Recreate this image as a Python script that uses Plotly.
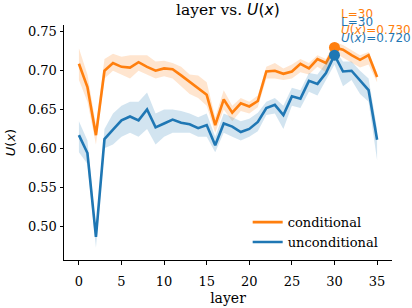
import plotly.graph_objects as go

layers = list(range(36))

cond_mean = [0.709, 0.679, 0.617, 0.700, 0.710, 0.705, 0.704, 0.711, 0.705, 0.700,
             0.703, 0.702, 0.694, 0.686, 0.678, 0.669, 0.630, 0.663, 0.646, 0.658,
             0.654, 0.661, 0.699, 0.700, 0.696, 0.699, 0.709, 0.703, 0.715, 0.710,
             0.730, 0.727, 0.720, 0.714, 0.720, 0.692]
cond_low = [0.688, 0.660, 0.605, 0.690, 0.700, 0.695, 0.690, 0.700, 0.695, 0.690,
            0.693, 0.690, 0.680, 0.670, 0.665, 0.655, 0.620, 0.650, 0.635, 0.648,
            0.645, 0.653, 0.690, 0.690, 0.688, 0.690, 0.698, 0.695, 0.705, 0.698,
            0.723, 0.717, 0.710, 0.704, 0.708, 0.685]
cond_high = [0.729, 0.695, 0.630, 0.715, 0.722, 0.718, 0.720, 0.720, 0.720, 0.712,
             0.713, 0.710, 0.705, 0.695, 0.694, 0.685, 0.640, 0.675, 0.655, 0.665,
             0.660, 0.668, 0.705, 0.710, 0.703, 0.708, 0.715, 0.710, 0.720, 0.715,
             0.737, 0.733, 0.726, 0.720, 0.724, 0.697]

unc_mean = [0.617, 0.594, 0.486, 0.612, 0.624, 0.636, 0.641, 0.636, 0.650, 0.627,
            0.632, 0.637, 0.633, 0.631, 0.626, 0.630, 0.604, 0.632, 0.628, 0.621,
            0.625, 0.634, 0.652, 0.656, 0.643, 0.667, 0.664, 0.687, 0.683, 0.697,
            0.720, 0.699, 0.700, 0.688, 0.675, 0.611]
unc_low = [0.595, 0.580, 0.472, 0.600, 0.605, 0.615, 0.620, 0.615, 0.625, 0.605,
           0.615, 0.620, 0.620, 0.620, 0.615, 0.615, 0.595, 0.620, 0.615, 0.610,
           0.615, 0.622, 0.643, 0.645, 0.625, 0.655, 0.652, 0.673, 0.668, 0.688,
           0.708, 0.680, 0.688, 0.670, 0.660, 0.585]
unc_high = [0.635, 0.610, 0.495, 0.625, 0.645, 0.655, 0.660, 0.660, 0.672, 0.645,
            0.650, 0.650, 0.648, 0.645, 0.640, 0.645, 0.615, 0.645, 0.640, 0.635,
            0.638, 0.646, 0.660, 0.665, 0.655, 0.678, 0.675, 0.697, 0.695, 0.710,
            0.728, 0.712, 0.712, 0.700, 0.690, 0.625]

best_layer = 30
best_cond = 0.730
best_unc = 0.720

ORANGE = "#ff7f0e"
BLUE = "#1f77b4"
SERIF = "DejaVu Serif"
SANS = "DejaVu Sans"

fig = go.Figure()

def add_series(mean, low, high, color, fill, name):
    fig.add_trace(go.Scatter(x=layers, y=high, mode="lines", line=dict(width=0),
                             showlegend=False, hoverinfo="skip"))
    fig.add_trace(go.Scatter(x=layers, y=low, mode="lines", line=dict(width=0),
                             fill="tonexty", fillcolor=fill, showlegend=False, hoverinfo="skip"))
    fig.add_trace(go.Scatter(x=layers, y=mean, mode="lines", name=name,
                             line=dict(color=color, width=2.6)))

add_series(cond_mean, cond_low, cond_high, ORANGE, "rgba(255,127,14,0.2)", "conditional")
add_series(unc_mean, unc_low, unc_high, BLUE, "rgba(31,119,180,0.2)", "unconditional")

fig.add_trace(go.Scatter(x=[best_layer], y=[best_cond], mode="markers",
                         marker=dict(color=ORANGE, size=11), showlegend=False))
fig.add_trace(go.Scatter(x=[best_layer], y=[best_unc], mode="markers",
                         marker=dict(color=BLUE, size=11), showlegend=False))

for val, color in [(best_cond, ORANGE), (best_unc, BLUE)]:
    fig.add_annotation(x=best_layer, y=val, xref="x", yref="y",
                       text=f"L={best_layer}<br><i>U</i>(<i>x</i>)={val:.3f}",
                       showarrow=False, xanchor="left", yanchor="bottom", align="left",
                       xshift=5, yshift=8, font=dict(family=SANS, size=12, color=color))

# title as an annotation above the plot area
fig.add_annotation(x=0.5, y=1.064, xref="paper", yref="paper", showarrow=False,
                   xanchor="center", yanchor="middle",
                   text="layer vs. <span style='font-family:DejaVu Sans'><i>U</i>(<i>x</i>)</span>",
                   font=dict(family=SERIF, size=15.5, color="black"))

axis_common = dict(showgrid=False, zeroline=False, showline=True, linecolor="black",
                   linewidth=1, ticks="outside", ticklen=3.5, tickwidth=0.8,
                   tickcolor="black", tickfont=dict(family=SERIF, size=13, color="black"),
                   mirror=False, automargin=False)

fig.update_xaxes(range=[-1.75, 36.75], tickvals=[0, 5, 10, 15, 20, 25, 30, 35],
                 ticklabelstandoff=6,
                 title=dict(text="layer", font=dict(family=SERIF, size=14, color="black"),
                            standoff=5), **axis_common)
fig.update_yaxes(range=[0.4562, 0.7589], tickvals=[0.50, 0.55, 0.60, 0.65, 0.70, 0.75],
                 tickformat=".2f",
                 title=dict(text="<i>U</i>(<i>x</i>)", font=dict(family=SANS, size=13, color="black"),
                            standoff=9), **axis_common)

fig.update_layout(
    width=412, height=308,
    margin=dict(l=64, r=20, t=25, b=48),
    plot_bgcolor="white", paper_bgcolor="white",
    legend=dict(x=0.56, y=0.225, xanchor="left", yanchor="top", traceorder="normal",
                font=dict(family=SERIF, size=13, color="black"),
                bgcolor="rgba(0,0,0,0)", itemwidth=30, tracegroupgap=0),
    showlegend=True,
)

fig.write_html("out.html", config={"displayModeBar": False},
               post_script="document.body.style.margin='0';document.body.style.overflow='hidden';")
